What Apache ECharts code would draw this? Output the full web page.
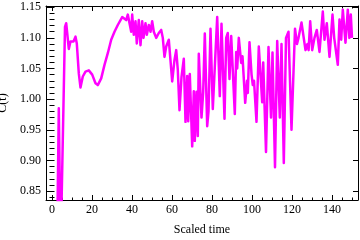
<!DOCTYPE html>
<html><head><meta charset="utf-8">
<script src="https://cdn.jsdelivr.net/npm/echarts@6/dist/echarts.min.js"></script>
<style>html,body{margin:0;padding:0;background:#fff}#c{width:360px;height:240px}</style>
</head><body><div id="c"></div>
<script>
const times = [2.5,3.4,4.3,4.8,6.5,7.1,8.4,9.25,10.1,10.75,11.75,12.4,13.4,14.25,15.4,16.75,18.4,20.1,21.75,22.9,24.6,26.25,27.9,29.6,31.25,32.9,33.75,35.1,36,37.1,37.9,39.6,40.1,40.9,41.75,42.4,43.4,44.25,45.1,45.75,46.75,47.4,48.4,49.25,50.1,50.9,52.1,53.4,54.6,55.4,56.25,57.1,58.4,59.1,60.1,61.25,62.1,62.9,63.75,64.75,65.9,66.75,67.6,68.1,68.9,70.1,70.9,71.4,72.25,72.9,73.4,74.75,75.6,76.4,77.6,78.25,79.25,80.4,82.6,83.9,84.75,86.25,87.1,87.9,88.75,89.6,91.4,92.1,92.6,93.4,94.6,95.25,96.6,97.5,97.9,98.75,99.75,100.4,101,102.25,103.4,105.1,105.6,107,108.25,109.5,110.25,111.5,112.6,113.9,114.75,115.9,117,118.25,119.75,121.5,122.5,123.25,124.75,126.75,127.75,128.3,129.1,130.1,131.25,132.4,133.75,135.4,136.25,137.4,138.75,140.25,141.1,142.9,143.75,144.6,145.4,146.75,147.9,148.7,149.4,150];
const values = [0.75,0.985,0.75,0.75,1.118,1.124,1.082,1.094,1.091,1.094,1.102,1.091,1.042,1.019,1.037,1.045,1.047,1.040,1.026,1.023,1.034,1.056,1.075,1.097,1.110,1.121,1.124,1.134,1.131,1.129,1.138,1.110,1.138,1.105,1.127,1.091,1.129,1.088,1.127,1.100,1.124,1.105,1.121,1.110,1.127,1.110,1.100,1.108,1.113,1.100,1.069,1.086,1.097,1.098,1.029,1.064,1.080,1.048,0.982,1.036,1.066,0.963,1.038,0.964,1.041,0.923,1.013,0.932,1.012,0.940,1.074,0.970,1.012,1.107,0.956,0.980,1.115,0.984,1.134,1.005,1.123,0.968,1.100,1.108,1.033,1.103,0.976,1.077,1.050,1.100,1.059,1.070,0.994,1.030,1.010,1.093,1.041,1.023,1.030,0.963,1.086,0.995,1.060,0.914,1.085,0.970,1.076,0.889,1.095,0.970,1.090,0.896,1.100,1.110,0.950,1.115,1.090,1.100,1.125,1.080,1.090,1.080,1.127,1.080,1.100,1.113,1.077,1.143,1.097,1.124,1.069,1.138,1.100,1.056,1.130,1.097,1.146,1.092,1.146,1.100,1.138,1.100];
const xMajorTicks = [0,20,40,60,80,100,120,140];
const xMinorTicks = [0,5,10,15,20,25,30,35,40,45,50,55,60,65,70,75,80,85,90,95,100,105,110,115,120,125,130,135,140,145,150];
const yMajorTicks = [0.85,0.90,0.95,1.00,1.05,1.10,1.15];
const yMinorTicks = [0.84,0.85,0.86,0.87,0.88,0.89,0.90,0.91,0.92,0.93,0.94,0.95,0.96,0.97,0.98,0.99,1.00,1.01,1.02,1.03,1.04,1.05,1.06,1.07,1.08,1.09,1.10,1.11,1.12,1.13,1.14,1.15];
const xTitle = 'Scaled time';
const yTitle = 'C(t)';

const X_MIN = -3, X_MAX = 153, Y_MIN = 0.8355, Y_MAX = 1.152;
const FONT = 'Liberation Serif';
const line = {show: true, onZero: false, lineStyle: {color: '#000', width: 1}};
const gridRect = {left: 46, right: 2, top: 6, bottom: 40, containLabel: false, outerBoundsMode: 'none'};

function xAx(grid, pos, ticks, len, labels) {
  return {
    type: 'value', gridIndex: grid, position: pos, min: X_MIN, max: X_MAX,
    axisLine: grid === 0 ? line : {show: false},
    axisTick: {show: true, inside: true, length: len, customValues: ticks, lineStyle: {color: '#000', width: 1}},
    axisLabel: labels ? {show: true, customValues: ticks, fontFamily: FONT, fontSize: 12, color: '#000', margin: 4} : {show: false},
    splitLine: {show: false}
  };
}
function yAx(grid, pos, ticks, len, labels) {
  return {
    type: 'value', gridIndex: grid, position: pos, min: Y_MIN, max: Y_MAX,
    axisLine: grid === 0 ? line : {show: false},
    axisTick: {show: true, inside: true, length: len, customValues: ticks, lineStyle: {color: '#000', width: 1}},
    axisLabel: labels ? {show: true, customValues: ticks, fontFamily: FONT, fontSize: 12, color: '#000', margin: 5,
      formatter: v => v.toFixed(2)} : {show: false},
    splitLine: {show: false}
  };
}

const xMain = xAx(0, 'bottom', xMajorTicks, 5, true);
Object.assign(xMain, {name: xTitle, nameLocation: 'middle', nameGap: 24,
  nameTextStyle: {fontFamily: FONT, fontSize: 12, color: '#000'}});
const yMain = yAx(0, 'left', yMajorTicks, 5, true);
Object.assign(yMain, {name: yTitle, nameLocation: 'middle', nameRotate: 90, nameGap: 31,
  nameTextStyle: {fontFamily: FONT, fontSize: 12, color: '#000'}});

const chart = echarts.init(document.getElementById('c'), null, {renderer: 'canvas'});
chart.setOption({
  animation: false,
  backgroundColor: '#fff',
  grid: [Object.assign({}, gridRect), Object.assign({}, gridRect)],
  xAxis: [
    xMain,
    xAx(0, 'top', xMajorTicks, 5, false),
    xAx(1, 'bottom', xMinorTicks, 2.5, false),
    xAx(1, 'top', xMinorTicks, 2.5, false)
  ],
  yAxis: [
    yMain,
    yAx(0, 'right', yMajorTicks, 5, false),
    yAx(1, 'left', yMinorTicks, 2.5, false),
    yAx(1, 'right', yMinorTicks, 2.5, false)
  ],
  series: [{
    type: 'line', xAxisIndex: 0, yAxisIndex: 0,
    data: times.map((t, i) => [t, values[i]]),
    showSymbol: false, clip: true,
    lineStyle: {color: '#ff00ff', width: 2.5, join: 'round'},
    itemStyle: {color: '#ff00ff'}
  }]
});
</script>
</body></html>
